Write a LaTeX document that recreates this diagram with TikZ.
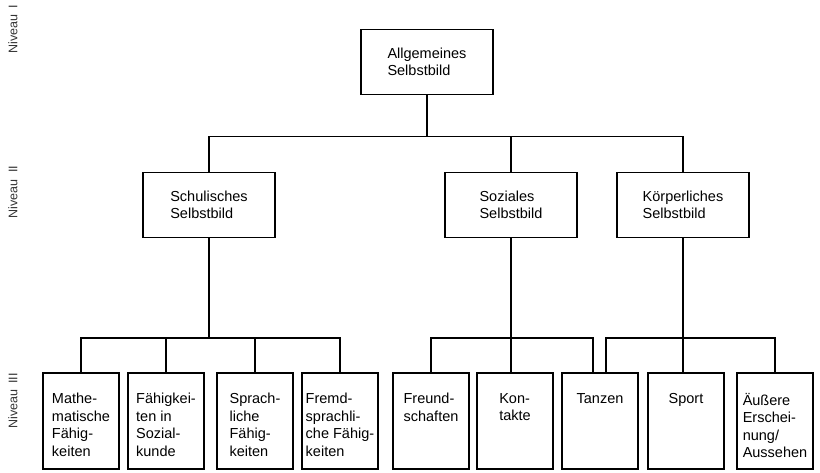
\documentclass[tikz,border=0pt]{standalone}
\usepackage{fontspec}
\setmainfont{Liberation Sans}
\usetikzlibrary{positioning, calc}

\begin{document}
\begin{tikzpicture}[
  x=1pt, y=-1pt,
  font=\fontsize{14.5}{17.5}\selectfont,
  selfbox/.style={draw, line width=1.8pt, minimum width=132pt,
                  minimum height=65pt, align=left, inner sep=0pt},
  leaf/.style={draw, line width=1.8pt, minimum width=76pt,
               minimum height=96pt, inner sep=0pt},
  leaftext/.style={anchor=north, align=left, inner sep=0pt},
  link/.style={line width=1.6pt},
  level/.style={rotate=90, font=\fontsize{12.5}{14}\selectfont, text=black!80}
]
  \useasboundingbox (0,0) rectangle (820,472);

  \node[level] (niv1) at (13,29) {Niveau\enspace I};
  \node[level] (niv2) at (13,192) {Niveau\enspace II};
  \node[level] (niv3) at (13,401) {Niveau\enspace III};

  \node[selfbox] (allg) at (427,62) {Allgemeines\\Selbstbild};
  \node[selfbox] (schul) at (209,205) {Schulisches\\Selbstbild};
  \node[selfbox] (soz) at (511,205) {Soziales\\Selbstbild};
  \node[selfbox] (koerp) at (683,205) {Körperliches\\Selbstbild};

  \foreach \name/\x/\txt in {
      mathe/81/{Mathe-\\matische\\Fähig-\\keiten},
      sozk/166/{Fähigkei-\\ten in\\Sozial-\\kunde},
      sprach/255/{Sprach-\\liche\\Fähig-\\keiten},
      fremd/340/{Fremd-\\sprachli-\\che Fähig-\\keiten},
      freund/431/{Freund-\\schaften},
      kont/515/{Kon-\\takte},
      tanz/600/{Tanzen},
      sport/686/{Sport},
      aeuss/775/{Äußere\\Erschei-\\nung/\\Aussehen}} {
    \node[leaf] (\name) at (\x,421) {};
    \node[leaftext] (\name-t) at ([yshift=-21pt]\name.north) {\txt};
  }

  \draw[link] (allg.south) -- ++(0,41) coordinate (j1);
  \draw[link] (schul.north) |- (koerp.north |- j1) -- (koerp.north);
  \draw[link] (soz.north) -- (soz.north |- j1);

  \coordinate (j2) at (0,338);
  \draw[link] (schul.south) -- (schul.south |- j2);
  \draw[link] (mathe.north) |- (fremd.north |- j2) -- (fremd.north);
  \foreach \n in {sozk, sprach}
    \draw[link] (\n.north) -- (\n.north |- j2);

  \draw[link] (soz.south) -- (soz.south |- kont.north);
  \draw[link] (freund.north) |- ([xshift=-7pt]tanz.north |- j2)
    -- ([xshift=-7pt]tanz.north);

  \draw[link] (koerp.south) -- (koerp.south |- sport.north);
  \draw[link] ([xshift=6pt]tanz.north) |- (aeuss.north |- j2)
    -- (aeuss.north);
\end{tikzpicture}
\end{document}
